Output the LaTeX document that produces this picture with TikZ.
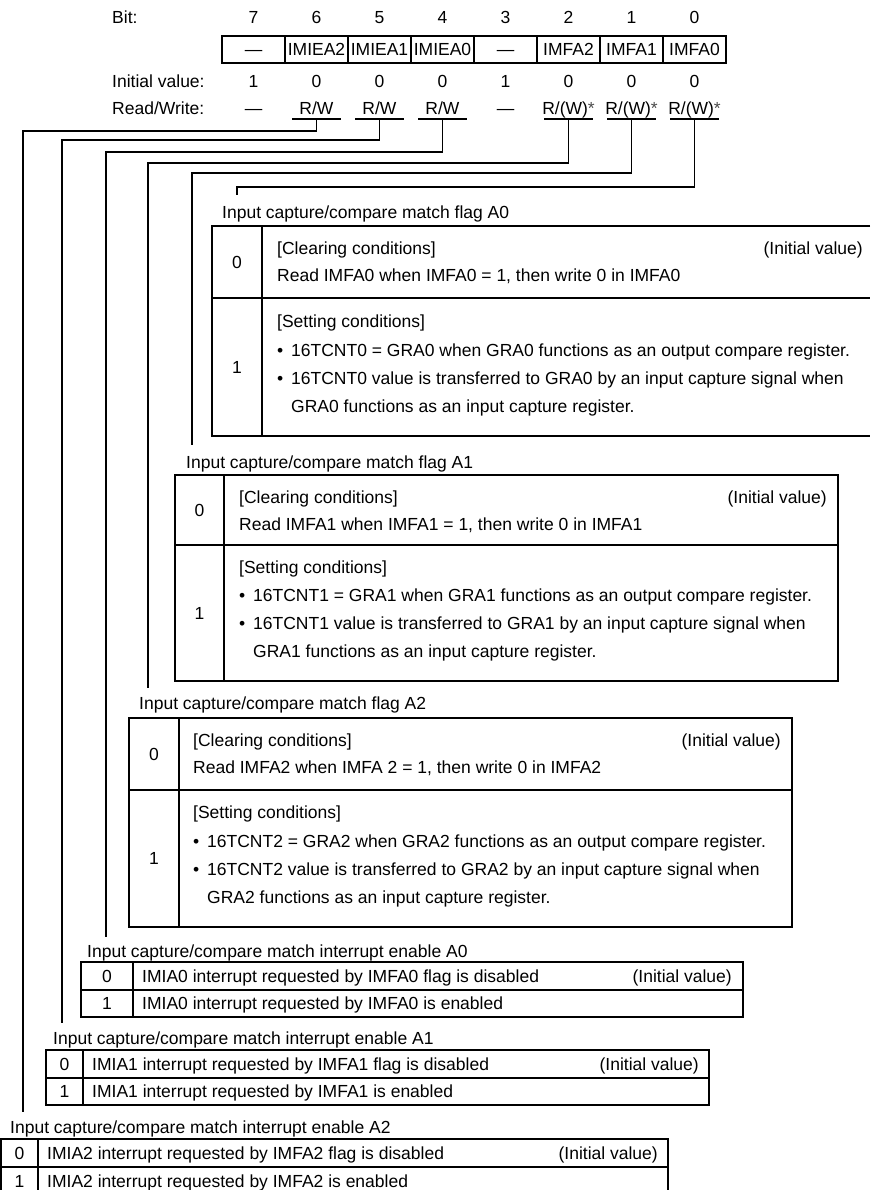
\documentclass[tikz,border=0pt]{standalone}
\usepackage{fontspec}
\setmainfont{Liberation Sans}
\newcommand\regfs{\fontsize{17.5}{21}\selectfont}
\tikzset{
  txt/.style={inner sep=0pt, text height=12.5pt, text depth=0pt, font=\regfs},
  ln/.style={line width=1.1pt, draw=black},
  cell/.style={draw=black, line width=1.1pt, minimum width=63pt, minimum height=27pt, inner sep=0pt, text height=12.5pt, text depth=0pt, font=\regfs},
  bul/.style={txt, anchor=west}
}
\newcommand\bl{\makebox[14pt][l]{•}}
\newcommand\rwstar{R/(W){\color{black!70}*}}
\begin{document}
\begin{tikzpicture}[x=1pt,y=-1pt]
\useasboundingbox (0,0) rectangle (870,1190);

% ---------- header ----------
\node[txt,anchor=west] (lbit) at (112,17) {Bit:};
\node[txt,anchor=west] (linit) at (112,81) {Initial value:};
\node[txt,anchor=west] (lrw) at (112,108) {Read/Write:};

\foreach \i/\b/\nm/\iv/\rw in {0/7/{—}/1/{—},1/6/{IMIEA2}/0/{R/W},2/5/{IMIEA1}/0/{R/W},3/4/{IMIEA0}/0/{R/W},4/3/{—}/1/{—},5/2/{IMFA2}/0/{\rwstar},6/1/{IMFA1}/0/{\rwstar},7/0/{IMFA0}/0/{\rwstar}}{
  \pgfmathsetmacro\cx{253.5+63*\i}
  \node[txt] (bit\b) at (\cx,17) {\b};
  \node[cell] (reg\b) at (\cx,49.5) {\nm};
  \node[txt] (iv\b) at (\cx,81) {\iv};
  \node[txt] (rw\b) at (\cx,108) {\rw};
}

% underlines below R/W entries
\foreach \b/\cx in {6/316.5,5/379.5,4/442.5,2/568.5,1/631.5,0/694.5}{
  \coordinate (u\b) at (\cx,119);
  \draw[ln] ([xshift=-24.5pt]u\b) -- ([xshift=24.5pt]u\b);
}

% connector corners and ends
\coordinate (k6) at (23,131);  \coordinate (e6) at (23,1112);
\coordinate (k5) at (62,140);  \coordinate (e5) at (62,1023);
\coordinate (k4) at (106,152); \coordinate (e4) at (106,937);
\coordinate (k2) at (148,163); \coordinate (e2) at (148,688);
\coordinate (k1) at (192,173); \coordinate (e1) at (192,445);
\coordinate (k0) at (237,187); \coordinate (e0) at (237,195);
\foreach \b in {6,5,4,2,1,0}{
  \draw[ln] (u\b) |- (k\b) -- (e\b);
}

% ---------- flag A0 ----------
\node[txt,anchor=west] (lA0) at (222,212) {Input capture/compare match flag A0};
\draw[ln] (870,226) -- (212,226) -- (212,436) -- (870,436);
\draw[ln] (262,226) -- (262,436);
\draw[ln] (212,298) -- (870,298);
\node[txt] (a0v0) at (237,262) {0};
\node[txt,anchor=west] (a0c) at (277,248) {[Clearing conditions]};
\node[txt,anchor=east] (a0i) at (863,248) {(Initial value)};
\node[txt,anchor=west] (a0r) at (277,275) {Read IMFA0 when IMFA0 = 1, then write 0 in IMFA0};
\node[txt] (a0v1) at (237,367) {1};
\node[txt,anchor=west] (a0s) at (277,321) {[Setting conditions]};
\node[bul] (a0b1) at (277,350) {\bl 16TCNT0 = GRA0 when GRA0 functions as an output compare register.};
\node[bul] (a0b2) at (277,378) {\bl 16TCNT0 value is transferred to GRA0 by an input capture signal when};
\node[bul] (a0b3) at (291,406) {GRA0 functions as an input capture register.};

% ---------- flag A1 ----------
\node[txt,anchor=west] (lA1) at (186,462) {Input capture/compare match flag A1};
\draw[ln] (175,475) rectangle (838,681);
\draw[ln] (224,475) -- (224,681);
\draw[ln] (175,545) -- (838,545);
\node[txt] (a1v0) at (199.5,510) {0};
\node[txt,anchor=west] (a1c) at (239,497) {[Clearing conditions]};
\node[txt,anchor=east] (a1i) at (827,497) {(Initial value)};
\node[txt,anchor=west] (a1r) at (239,524) {Read IMFA1 when IMFA1 = 1, then write 0 in IMFA1};
\node[txt] (a1v1) at (199.5,613) {1};
\node[txt,anchor=west] (a1s) at (239,567) {[Setting conditions]};
\node[bul] (a1b1) at (239,595) {\bl 16TCNT1 = GRA1 when GRA1 functions as an output compare register.};
\node[bul] (a1b2) at (239,623) {\bl 16TCNT1 value is transferred to GRA1 by an input capture signal when};
\node[bul] (a1b3) at (253,651) {GRA1 functions as an input capture register.};

% ---------- flag A2 ----------
\node[txt,anchor=west] (lA2) at (139,703) {Input capture/compare match flag A2};
\draw[ln] (129,718) rectangle (792,927);
\draw[ln] (179,718) -- (179,927);
\draw[ln] (129,790) -- (792,790);
\node[txt] (a2v0) at (154,754) {0};
\node[txt,anchor=west] (a2c) at (193,740) {[Clearing conditions]};
\node[txt,anchor=east] (a2i) at (781,740) {(Initial value)};
\node[txt,anchor=west] (a2r) at (193,767) {Read IMFA2 when IMFA 2 = 1, then write 0 in IMFA2};
\node[txt] (a2v1) at (154,858) {1};
\node[txt,anchor=west] (a2s) at (193,812) {[Setting conditions]};
\node[bul] (a2b1) at (193,841) {\bl 16TCNT2 = GRA2 when GRA2 functions as an output compare register.};
\node[bul] (a2b2) at (193,869) {\bl 16TCNT2 value is transferred to GRA2 by an input capture signal when};
\node[bul] (a2b3) at (207,897) {GRA2 functions as an input capture register.};

% ---------- interrupt enable A0 ----------
\node[txt,anchor=west] (lE0) at (87,951) {Input capture/compare match interrupt enable A0};
\draw[ln] (81,962) rectangle (743,1017);
\draw[ln] (133,962) -- (133,1017);
\draw[ln] (81,990) -- (743,990);
\node[txt] (e0v0) at (107,976) {0};
\node[txt,anchor=west] (e0t0) at (142,976) {IMIA0 interrupt requested by IMFA0 flag is disabled};
\node[txt,anchor=east] (e0i) at (732,976) {(Initial value)};
\node[txt] (e0v1) at (107,1003.5) {1};
\node[txt,anchor=west] (e0t1) at (142,1003.5) {IMIA0 interrupt requested by IMFA0 is enabled};

% ---------- interrupt enable A1 ----------
\node[txt,anchor=west] (lE1) at (53,1038) {Input capture/compare match interrupt enable A1};
\draw[ln] (46,1050) rectangle (709,1105);
\draw[ln] (83,1050) -- (83,1105);
\draw[ln] (46,1078) -- (709,1078);
\node[txt] (e1v0) at (64.5,1064) {0};
\node[txt,anchor=west] (e1t0) at (92,1064) {IMIA1 interrupt requested by IMFA1 flag is disabled};
\node[txt,anchor=east] (e1i) at (699,1064) {(Initial value)};
\node[txt] (e1v1) at (64.5,1091.5) {1};
\node[txt,anchor=west] (e1t1) at (92,1091.5) {IMIA1 interrupt requested by IMFA1 is enabled};

% ---------- interrupt enable A2 ----------
\node[txt,anchor=west] (lE2) at (10,1127) {Input capture/compare match interrupt enable A2};
\draw[ln] (1,1139) rectangle (668,1195);
\draw[ln] (38,1139) -- (38,1195);
\draw[ln] (1,1167) -- (668,1167);
\node[txt] (e2v0) at (19.5,1153) {0};
\node[txt,anchor=west] (e2t0) at (47,1153) {IMIA2 interrupt requested by IMFA2 flag is disabled};
\node[txt,anchor=east] (e2i) at (658,1153) {(Initial value)};
\node[txt] (e2v1) at (19.5,1181) {1};
\node[txt,anchor=west] (e2t1) at (47,1181) {IMIA2 interrupt requested by IMFA2 is enabled};
\end{tikzpicture}
\end{document}
